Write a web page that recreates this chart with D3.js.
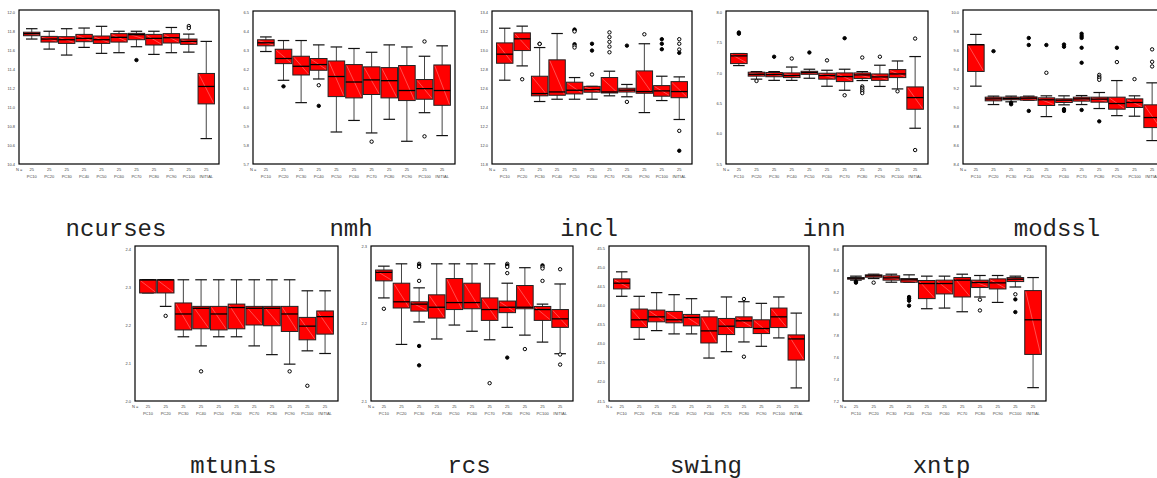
<!doctype html>
<html>
  <head>
    <script src="https://cdn.jsdelivr.net/npm/d3@7/dist/d3.min.js"></script>
    <style>
      body { margin: 0; background: #fff; }
      .tiny { font-family: "Liberation Sans", Arial, sans-serif; font-size: 4px; fill: #444; }
      .title { font-family: "Liberation Mono", "Courier New", monospace; font-size: 24px; fill: #222; text-anchor: middle; }
    </style>
  </head>
  <body>
    <script>
      // categories shared by every panel
      var categories = ["PC10","PC20","PC30","PC40","PC50","PC60","PC70","PC80","PC90","PC100","INITIAL"];
      var counts = [25,25,25,25,25,25,25,25,25,25,25];

      // each box: [lower whisker, Q1, median, Q3, upper whisker]
      var ncursesTicks = [10.4,10.6,10.8,11.0,11.2,11.4,11.6,11.8,12.0];
      var ncursesBoxes = [
        [11.718,11.753,11.775,11.79,11.827],[11.612,11.686,11.718,11.746,11.80],
        [11.549,11.672,11.711,11.743,11.827],[11.63,11.69,11.725,11.767,11.834],
        [11.567,11.672,11.711,11.75,11.852],[11.574,11.686,11.736,11.775,11.80],
        [11.637,11.711,11.764,11.778,11.80],[11.556,11.655,11.725,11.767,11.80],
        [11.574,11.676,11.732,11.775,11.84],[11.58,11.662,11.693,11.718,11.77],
        [10.668,11.034,11.218,11.355,11.693]];
      var ncursesOutliers = [[6,11.496,"*"],[9,11.855,"o"],[9,11.834,"o"]];

      var nmhTicks = [5.7,5.8,5.9,6.0,6.1,6.2,6.3,6.4,6.5];
      var nmhBoxes = [
        [6.294,6.324,6.34,6.356,6.371],[6.142,6.23,6.257,6.306,6.352],
        [6.024,6.17,6.216,6.269,6.352],[6.149,6.195,6.225,6.257,6.329],
        [5.869,6.056,6.162,6.244,6.318],[5.93,6.049,6.133,6.225,6.31],
        [5.864,6.067,6.144,6.213,6.29],[5.936,6.049,6.14,6.209,6.329],
        [5.82,6.035,6.088,6.22,6.318],[5.971,6.042,6.098,6.146,6.269],
        [5.85,6.01,6.088,6.223,6.324]];
      var nmhOutliers = [[1,6.11,"*"],[3,6.116,"o"],[3,6.007,"*"],[6,5.818,"o"],[9,6.347,"o"],[9,5.846,"o"]];

      var inclTicks = [11.8,12.0,12.2,12.4,12.6,12.8,13.0,13.2,13.4];
      var inclBoxes = [
        [12.685,12.864,12.96,13.079,13.234],[12.836,12.998,13.122,13.185,13.256],
        [12.46,12.52,12.544,12.727,13.03],[12.484,12.526,12.561,12.9,13.178],
        [12.484,12.54,12.579,12.664,12.713],[12.484,12.558,12.586,12.62,12.62],
        [12.52,12.55,12.561,12.713,12.78],[12.51,12.56,12.58,12.6,12.64],
        [12.343,12.547,12.565,12.783,13.07],[12.47,12.516,12.572,12.628,12.727],
        [12.27,12.5,12.565,12.67,12.72]];
      var inclOutliers = [[1,12.695,"o"],[2,13.07,"*"],[2,13.068,"o"],[4,13.22,"*"],[4,13.21,"*"],[4,13.2,"o"],
        [4,13.065,"*"],[4,13.047,"o"],[4,13.03,"o"],[5,13.07,"*"],[5,12.998,"*"],[5,12.745,"o"],
        [6,13.19,"o"],[6,13.14,"o"],[6,13.09,"o"],[6,13.04,"o"],[6,12.98,"o"],[7,13.05,"*"],[7,12.456,"o"],
        [8,13.17,"o"],[9,13.118,"*"],[9,13.07,"*"],[9,13.012,"*"],[10,13.118,"o"],[10,13.07,"o"],
        [10,13.009,"o"],[10,12.974,"*"],[10,12.15,"o"],[10,11.94,"*"]];

      var innTicks = [5.5,6.0,6.5,7.0,7.5,8.0];
      var innBoxes = [
        [7.124,7.157,7.284,7.323,7.323],[6.9,6.95,6.98,7.015,7.025],
        [6.88,6.94,6.976,7.01,7.025],[6.88,6.926,6.96,7.003,7.1],
        [6.915,6.98,7.009,7.03,7.064],[6.783,6.9,6.96,6.998,7.047],
        [6.717,6.86,6.943,7.003,7.064],[6.877,6.91,6.97,7.003,7.025],
        [6.78,6.88,6.937,6.986,7.13],[6.739,6.926,6.986,7.058,7.2],
        [6.09,6.403,6.596,6.772,7.273]];
      var innOutliers = [[0,7.67,"*"],[0,7.65,"*"],[1,6.87,"o"],[2,7.27,"*"],[3,7.24,"o"],[4,7.34,"*"],
        [5,7.21,"o"],[6,7.576,"*"],[6,6.634,"o"],[7,7.257,"o"],[7,6.78,"o"],[7,6.755,"o"],[7,6.73,"o"],
        [7,6.7,"o"],[7,6.67,"o"],[8,7.27,"o"],[9,6.7,"o"],[10,7.57,"o"],[10,5.73,"o"]];

      var modsslTicks = [8.4,8.6,8.8,9.0,9.2,9.4,9.6,9.8,10.0];
      var modsslBoxes = [
        [9.221,9.376,9.658,9.658,9.767],[9.027,9.066,9.087,9.105,9.116],
        [9.056,9.077,9.09,9.105,9.116],[9.073,9.073,9.094,9.108,9.116],
        [8.9,9.017,9.077,9.098,9.119],[9.024,9.049,9.073,9.087,9.119],
        [9.027,9.063,9.087,9.105,9.122],[8.985,9.052,9.084,9.105,9.154],
        [8.91,8.978,9.038,9.105,9.28],[8.904,8.996,9.049,9.087,9.119],
        [8.647,8.784,8.89,9.024,9.256]];
      var modsslOutliers = [[1,9.59,"*"],[2,9.045,"*"],[2,9.03,"*"],[3,9.729,"*"],[3,9.655,"*"],[3,8.96,"*"],
        [4,9.655,"*"],[4,9.362,"o"],[5,9.66,"*"],[5,9.637,"*"],[5,8.978,"*"],[5,8.96,"*"],
        [6,9.774,"*"],[6,9.75,"*"],[6,9.73,"*"],[6,9.626,"*"],[6,9.468,"*"],[6,8.97,"*"],
        [7,9.34,"o"],[7,9.32,"o"],[7,9.306,"o"],[7,9.288,"o"],[7,8.85,"*"],[8,9.626,"*"],[8,9.475,"o"],
        [9,9.295,"o"],[10,9.609,"o"],[10,9.478,"o"],[10,9.429,"o"]];

      var mtunisTicks = [2.0,2.1,2.2,2.3,2.4];
      var mtunisBoxes = [
        [2.2843,2.2843,2.3188,2.3188,2.3188],[2.249,2.2843,2.3188,2.3188,2.3188],
        [2.169,2.187,2.229,2.258,2.319],[2.145,2.19,2.244,2.249,2.319],
        [2.169,2.187,2.229,2.249,2.319],[2.169,2.19,2.246,2.255,2.319],
        [2.145,2.2,2.244,2.249,2.319],[2.122,2.198,2.244,2.249,2.319],
        [2.097,2.183,2.229,2.249,2.319],[2.132,2.161,2.197,2.22,2.29],
        [2.125,2.176,2.222,2.237,2.29]];
      var mtunisOutliers = [[1,2.224,"o"],[3,2.078,"o"],[8,2.078,"o"],[9,2.04,"o"]];

      var rcsTicks = [2.1,2.2,2.3];
      var rcsBoxes = [
        [2.233,2.255,2.266,2.269,2.274],[2.173,2.22,2.228,2.252,2.277],
        [2.202,2.216,2.225,2.228,2.246],[2.18,2.207,2.221,2.237,2.277],
        [2.198,2.218,2.227,2.258,2.277],[2.19,2.219,2.227,2.252,2.277],
        [2.179,2.204,2.218,2.233,2.277],[2.195,2.214,2.221,2.229,2.252],
        [2.185,2.219,2.221,2.249,2.272],[2.176,2.204,2.218,2.222,2.225],
        [2.161,2.195,2.206,2.218,2.251]];
      var rcsOutliers = [[0,2.219,"o"],[2,2.277,"o"],[2,2.275,"*"],[2,2.273,"o"],[2,2.255,"o"],[2,2.171,"*"],
        [2,2.146,"*"],[6,2.123,"o"],[7,2.277,"o"],[7,2.275,"*"],[7,2.273,"o"],[7,2.265,"o"],[7,2.156,"*"],
        [8,2.167,"o"],[9,2.275,"*"],[9,2.273,"o"],[9,2.271,"o"],[9,2.255,"o"],[10,2.27,"o"],[10,2.16,"o"],[10,2.147,"o"]];

      var swingTicks = [41.5,42.0,42.5,43.0,43.5,44.0,44.5,45.0,45.5];
      var swingBoxes = [
        [44.237,44.43,44.58,44.693,44.877],[43.114,43.42,43.623,43.904,44.237],
        [43.34,43.57,43.7,43.877,44.333],[43.254,43.544,43.623,43.842,44.28],
        [43.254,43.465,43.684,43.763,44.175],[42.623,43.017,43.333,43.7,43.85],
        [42.79,43.237,43.456,43.658,44.22],[43.044,43.42,43.596,43.7,44.096],
        [42.93,43.263,43.395,43.623,44.053],[43.149,43.42,43.7,43.93,44.22],
        [41.842,42.57,43.123,43.228,43.798]];
      var swingOutliers = [[7,44.167,"o"],[7,42.658,"o"]];

      var xntpTicks = [7.2,7.4,7.6,7.8,8.0,8.2,8.4,8.6];
      var xntpBoxes = [
        [8.313,8.322,8.331,8.337,8.35],[8.328,8.34,8.353,8.362,8.368],
        [8.294,8.313,8.334,8.353,8.368],[8.294,8.294,8.316,8.328,8.362],
        [8.05,8.143,8.282,8.31,8.35],[8.056,8.186,8.282,8.313,8.35],
        [8.022,8.158,8.313,8.337,8.368],[8.158,8.245,8.291,8.313,8.356],
        [8.108,8.232,8.288,8.325,8.356],[8.25,8.3,8.322,8.337,8.35],
        [7.323,7.629,7.948,8.217,8.337]];
      var xntpOutliers = [[0,8.30,"*"],[0,8.29,"*"],[1,8.29,"o"],[3,8.158,"*"],[3,8.143,"*"],[3,8.124,"*"],
        [3,8.078,"*"],[7,8.133,"o"],[7,8.034,"o"],[9,8.183,"o"],[9,8.136,"*"],[9,8.019,"*"]];

      var svg = d3.select("body").append("svg")
          .attr("width", 1157)
          .attr("height", 478);

      // panel frames: left, right, top, bottom, top padding of the value range
      var panels = [
        {name: "ncurses", ticks: ncursesTicks, boxes: ncursesBoxes, out: ncursesOutliers, f: [19, 219, 10, 164, 2.3]},
        {name: "nmh", ticks: nmhTicks, boxes: nmhBoxes, out: nmhOutliers, f: [253, 455, 11, 164, 1.5]},
        {name: "incl", ticks: inclTicks, boxes: inclBoxes, out: inclOutliers, f: [492, 692, 11, 164, 1.5]},
        {name: "inn", ticks: innTicks, boxes: innBoxes, out: innOutliers, f: [726, 928, 11, 164, 1.5]},
        {name: "modssl", ticks: modsslTicks, boxes: modsslBoxes, out: modsslOutliers, f: [963, 1165, 10, 164, 2.3]},
        {name: "mtunis", ticks: mtunisTicks, boxes: mtunisBoxes, out: mtunisOutliers, f: [135, 338, 246, 401, 3]},
        {name: "rcs", ticks: rcsTicks, boxes: rcsBoxes, out: rcsOutliers, f: [371, 573, 246, 401, 0]},
        {name: "swing", ticks: swingTicks, boxes: swingBoxes, out: swingOutliers, f: [609, 809, 246, 401, 2]},
        {name: "xntp", ticks: xntpTicks, boxes: xntpBoxes, out: xntpOutliers, f: [843, 1046, 246, 401, 3]}
      ];

      panels.forEach(drawPanel);

      function drawPanel(p) {
        var x0 = p.f[0], x1 = p.f[1], y0 = p.f[2], y1 = p.f[3];
        var g = svg.append("g");

        var x = d3.scalePoint().domain(categories).range([x0, x1]).padding(0.73);
        var y = d3.scaleLinear()
            .domain(d3.extent(p.ticks))
            .range([y1, y0 + p.f[4]]);
        var bw = x.step() * 0.94, cw = bw * 0.7;

        g.append("rect")
            .attr("x", x0).attr("y", y0)
            .attr("width", x1 - x0).attr("height", y1 - y0)
            .attr("fill", "#fff").attr("stroke", "#000").attr("stroke-width", 1.2);

        // y labels
        g.selectAll(".yl").data(p.ticks).enter().append("text")
            .attr("class", "tiny")
            .attr("x", x0 - 4)
            .attr("y", d => y(d) + 1.5)
            .attr("text-anchor", "end")
            .text(d => d3.format(".1f")(d));

        // N = row and category labels
        g.append("text").attr("class", "tiny")
            .attr("x", x0 - 3).attr("y", y1 + 7).text("N =");
        g.selectAll(".n").data(categories).enter().append("text")
            .attr("class", "tiny")
            .attr("x", d => x(d)).attr("y", y1 + 7)
            .attr("text-anchor", "middle")
            .text((d, i) => counts[i]);
        g.selectAll(".cat").data(categories).enter().append("text")
            .attr("class", "tiny")
            .attr("x", d => x(d)).attr("y", y1 + 14)
            .attr("text-anchor", "middle")
            .text(d => d);

        var box = g.selectAll(".box").data(p.boxes).enter().append("g");

        box.append("line")
            .attr("x1", (d, i) => x(categories[i])).attr("x2", (d, i) => x(categories[i]))
            .attr("y1", d => y(d[4])).attr("y2", d => y(d[0]))
            .attr("stroke", "#444").attr("stroke-width", 1);
        [0, 4].forEach(function(k) {
          box.append("line")
              .attr("x1", (d, i) => x(categories[i]) - cw / 2).attr("x2", (d, i) => x(categories[i]) + cw / 2)
              .attr("y1", d => y(d[k])).attr("y2", d => y(d[k]))
              .attr("stroke", "#111").attr("stroke-width", 1.2);
        });
        box.append("rect")
            .attr("x", (d, i) => x(categories[i]) - bw / 2)
            .attr("y", d => y(d[3]))
            .attr("width", bw)
            .attr("height", d => Math.max(0.5, y(d[1]) - y(d[3])))
            .attr("fill", "#ff0000").attr("stroke", "#222").attr("stroke-width", 1);
        box.append("line")
            .attr("x1", (d, i) => x(categories[i]) - bw / 2 + 1).attr("x2", (d, i) => x(categories[i]) + bw / 2 - 1)
            .attr("y1", d => y(d[3]) + 1).attr("y2", d => y(d[1]) - 1)
            .attr("stroke", "#ff9a9a").attr("stroke-width", 0.5);
        box.append("line")
            .attr("x1", (d, i) => x(categories[i]) - bw / 2).attr("x2", (d, i) => x(categories[i]) + bw / 2)
            .attr("y1", d => y(d[2])).attr("y2", d => y(d[2]))
            .attr("stroke", "#000").attr("stroke-width", 1.3);

        g.selectAll(".out").data(p.out).enter().append("circle")
            .attr("cx", d => x(categories[d[0]]))
            .attr("cy", d => y(d[1]))
            .attr("r", 1.7)
            .attr("fill", d => d[2] === "*" ? "#000" : "#fff")
            .attr("stroke", "#000").attr("stroke-width", 1);

        svg.append("text").attr("class", "title")
            .attr("x", (x0 + Math.min(x1, 1157)) / 2 - 3)
            .attr("y", y1 + 72)
            .text(p.name);
      }
    </script>
  </body>
</html>
